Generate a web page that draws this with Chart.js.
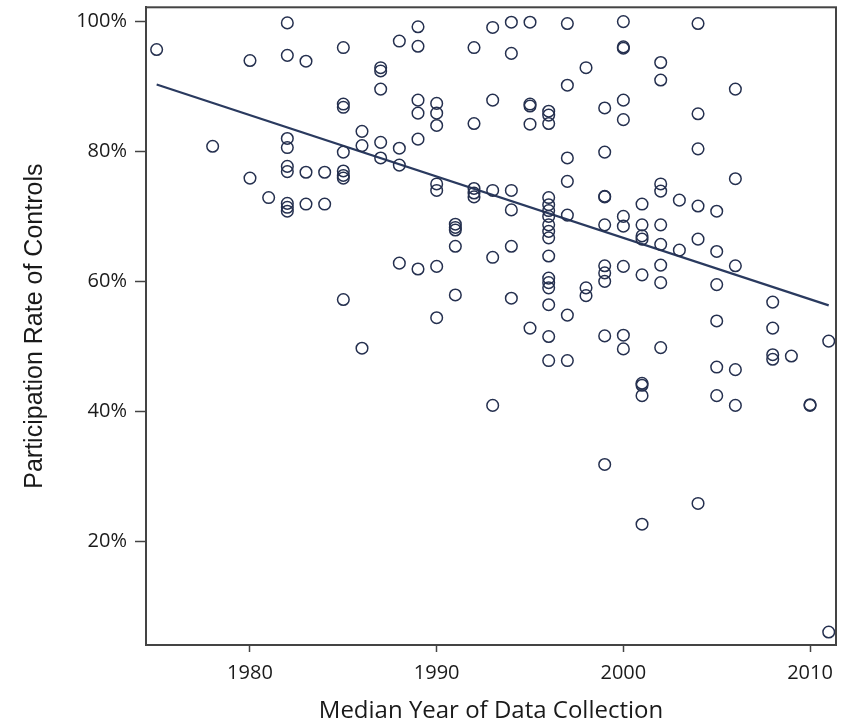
<!DOCTYPE html>
<html lang="en">
    <head>
        <meta charset="UTF-8" />
        <title>Participation Rate of Controls</title>
        <script src="https://cdn.jsdelivr.net/npm/chart.js"></script>
        <style>
            body {
                margin: 0;
                background: #ffffff;
            }
            .wrap {
                width: 844px;
                height: 726px;
            }
        </style>
    </head>
    <body>
        <div class="wrap"><canvas id="scatter"></canvas></div>

        <script>
	// median year of data collection and participation rate (%)
	const years = [
		1975, 1978, 1980, 1980, 1981,
		1982, 1982, 1982, 1982, 1982, 1982, 1982, 1982, 1982,
		1983, 1983, 1983, 1984, 1984,
		1985, 1985, 1985, 1985, 1985, 1985, 1985, 1985,
		1986, 1986, 1986,
		1987, 1987, 1987, 1987, 1987,
		1988, 1988, 1988, 1988,
		1989, 1989, 1989, 1989, 1989, 1989,
		1990, 1990, 1990, 1990, 1990, 1990, 1990,
		1991, 1991, 1991, 1991, 1991,
		1992, 1992, 1992, 1992, 1992,
		1993, 1993, 1993, 1993, 1993,
		1994, 1994, 1994, 1994, 1994, 1994,
		1995, 1995, 1995, 1995, 1995,
		1996, 1996, 1996, 1996, 1996, 1996, 1996, 1996, 1996, 1996, 1996, 1996, 1996, 1996, 1996, 1996, 1996,
		1997, 1997, 1997, 1997, 1997, 1997, 1997,
		1998, 1998, 1998,
		1999, 1999, 1999, 1999, 1999, 1999, 1999, 1999, 1999, 1999,
		2000, 2000, 2000, 2000, 2000, 2000, 2000, 2000, 2000, 2000,
		2001, 2001, 2001, 2001, 2001, 2001, 2001, 2001, 2001,
		2002, 2002, 2002, 2002, 2002, 2002, 2002, 2002, 2002,
		2003, 2003,
		2004, 2004, 2004, 2004, 2004, 2004,
		2005, 2005, 2005, 2005, 2005, 2005,
		2006, 2006, 2006, 2006, 2006,
		2008, 2008, 2008, 2008,
		2009,
		2010, 2010,
		2011, 2011
	];
	const rates = [
		95.7, 80.8, 94.0, 75.9, 72.9,
		99.8, 94.8, 82.0, 80.6, 77.7, 76.9, 72.0, 71.4, 70.8,
		93.9, 76.8, 71.9, 76.8, 71.9,
		96.0, 87.3, 86.8, 79.9, 77.0, 76.3, 75.9, 57.2,
		83.1, 80.9, 49.7,
		92.9, 92.4, 89.6, 81.4, 79.0,
		97.0, 80.5, 77.9, 62.8,
		99.2, 96.2, 87.9, 85.9, 81.9, 61.9,
		87.4, 85.9, 84.0, 75.0, 74.0, 62.3, 54.4,
		68.8, 68.3, 67.9, 65.4, 57.9,
		96.0, 84.3, 74.3, 73.6, 73.0,
		99.1, 87.9, 74.0, 63.7, 40.9,
		99.9, 95.1, 74.0, 71.0, 65.4, 57.4,
		99.9, 87.3, 87.0, 84.2, 52.8,
		86.2, 85.6, 84.3, 72.9, 71.8, 70.0, 68.7, 67.7, 66.7, 63.9, 60.5, 59.8, 59.0, 56.4, 51.5, 47.8, 70.9,
		99.7, 90.2, 79.0, 75.4, 70.2, 54.8, 47.8,
		92.9, 59.0, 57.8,
		86.7, 79.9, 73.1, 73.0, 68.7, 62.4, 61.3, 60.0, 51.6, 31.8,
		100.0, 96.1, 95.9, 87.9, 84.9, 70.0, 68.5, 62.3, 51.7, 49.6,
		71.9, 68.7, 67.0, 66.5, 61.0, 44.3, 44.0, 42.4, 22.6,
		93.7, 91.0, 75.0, 73.9, 68.7, 65.7, 62.5, 59.8, 49.8,
		72.5, 64.8,
		99.7, 85.8, 80.4, 71.6, 66.5, 25.8,
		70.8, 64.6, 59.5, 53.9, 46.8, 42.4,
		89.6, 75.8, 62.4, 46.4, 40.9,
		56.8, 52.8, 48.7, 48.0,
		48.5,
		41.0, 40.9,
		50.8, 6.0
	];

	// fitted trend line, end points
	const fitYears = [1975, 2011];
	const fitRates = [90.3, 56.3];

	const xTicks = [1980, 1990, 2000, 2010];
	const yTicks = [20, 40, 60, 80, 100];

	const navy = '#25304f';

	const points = years.map((y, i) => ({x: y, y: rates[i]}));
	const fit = fitYears.map((y, i) => ({x: y, y: fitRates[i]}));

	// box round the plot area
	const frame = {
		id: 'frame',
		afterDraw(chart) {
			const {ctx, chartArea: a} = chart;
			ctx.save();
			ctx.strokeStyle = '#444';
			ctx.lineWidth = 2;
			ctx.strokeRect(a.left, a.top, a.right - a.left, a.bottom - a.top);
			ctx.restore();
		}
	};

	new Chart(document.getElementById('scatter'), {
		type: 'scatter',
		data: {
			datasets: [{
					label: 'Studies',
					data: points,
					pointStyle: 'circle',
					pointRadius: 5.8,
					pointBorderWidth: 1.5,
					borderColor: navy,
					backgroundColor: 'rgba(0,0,0,0)'
				}, {
					type: 'line',
					label: 'Fit',
					data: fit,
					borderColor: '#2a3a5f',
					borderWidth: 2.2,
					pointRadius: 0,
					fill: false
				}]
		},
		options: {
			responsive: true,
			maintainAspectRatio: false,
			animation: false,
			layout: {padding: {left: 0, right: 8, top: 5, bottom: 0}},
			plugins: {
				legend: {display: false},
				tooltip: {enabled: false}
			},
			scales: {
				x: {
					type: 'linear',
					min: 1974.43,
					max: 2011.39,
					afterBuildTicks: s => { s.ticks = xTicks.map(v => ({value: v})); },
					afterFit: s => { s.height = 81; s.paddingLeft = 0; s.paddingRight = 0; },
					grid: {drawOnChartArea: false, tickLength: 7, tickColor: '#444', tickWidth: 1.5},
					border: {display: true, color: '#444', width: 2},
					ticks: {
						padding: 9,
						color: '#1a1a1a',
						font: {family: 'Open Sans', size: 20},
						maxRotation: 0,
						callback: v => String(v)
					},
					title: {
						display: true,
						text: 'Median Year of Data Collection',
						color: '#1a1a1a',
						font: {family: 'Open Sans', size: 24},
						padding: {top: 0, bottom: 0}
					}
				},
				y: {
					type: 'linear',
					min: 4.0,
					max: 102.2,
					afterBuildTicks: s => { s.ticks = yTicks.map(v => ({value: v})); },
					afterFit: s => { s.width = 146; s.paddingTop = 0; s.paddingBottom = 0; },
					grid: {drawOnChartArea: false, tickLength: 11, tickColor: '#444', tickWidth: 1.5},
					border: {display: true, color: '#444', width: 2},
					ticks: {
						padding: 8,
						color: '#1a1a1a',
						font: {family: 'Open Sans', size: 20},
						callback: v => v + '%'
					},
					title: {
						display: true,
						text: 'Participation Rate of Controls',
						color: '#1a1a1a',
						font: {family: 'Liberation Sans', size: 25},
						padding: {top: 20, bottom: 0}
					}
				}
			}
		},
		plugins: [frame]
	});
        </script>
    </body>
</html>
